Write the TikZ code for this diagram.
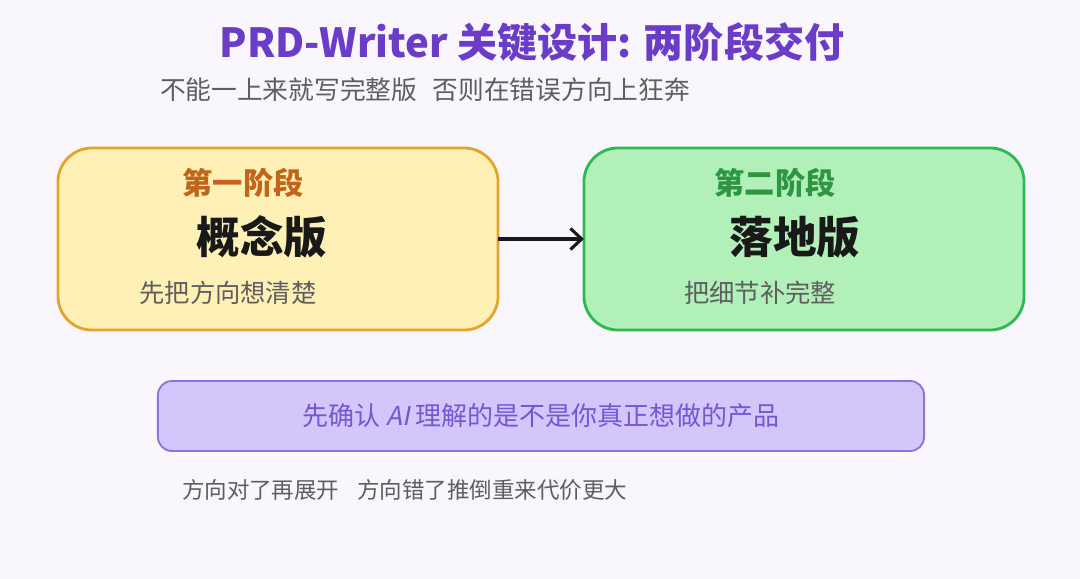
\documentclass[tikz,border=0pt]{standalone}
\usepackage{fontspec}
\setmainfont{Noto Sans CJK SC}
\newfontfamily\slantfont[FakeSlant=0.2]{Noto Sans CJK SC}
\usetikzlibrary{positioning,arrows.meta}
\definecolor{bgpaper}{HTML}{F9F6FD}
\definecolor{titlepurple}{HTML}{6A3CC8}
\definecolor{greytext}{HTML}{5E5E5E}
\definecolor{stageone}{HTML}{FFF1B6}
\definecolor{stageoneline}{HTML}{E3A42E}
\definecolor{stageonehead}{HTML}{C2641A}
\definecolor{stagetwo}{HTML}{B1F0B8}
\definecolor{stagetwoline}{HTML}{2DBA50}
\definecolor{stagetwohead}{HTML}{2E9643}
\definecolor{notebar}{HTML}{D2C6FA}
\definecolor{notebarline}{HTML}{8D74DA}
\definecolor{notetext}{HTML}{7656D4}

\begin{document}
\begin{tikzpicture}[x=0.025cm, y=-0.025cm,
  every node/.style={inner sep=0pt, outer sep=0pt},
  stagebox/.style={rounded corners=0.85cm, line width=2pt,
    minimum width=11cm, minimum height=4.55cm},
  headtext/.style={font=\fontsize{21.5}{26}\selectfont\bfseries},
  bigtext/.style={font=\fontsize{31}{37}\selectfont\bfseries, text=black!90},
  smalltext/.style={font=\fontsize{18}{22}\selectfont, text=greytext}]
  \fill[bgpaper] (0,0) rectangle (1080,579);
  \useasboundingbox (0,0) rectangle (1080,579);
  % heading
  \node (title) at (532,42) [text=titlepurple, font=\fontsize{28.5}{34}\selectfont\bfseries]
    {PRD-Writer 关键设计: 两阶段交付};
  \node (sub) [anchor=west, smalltext, font=\fontsize{18.3}{22}\selectfont] at (160,90)
    {不能一上来就写完整版\hspace{0.6em}否则在错误方向上狂奔};
  % the two stages
  \node (one) [stagebox, draw=stageoneline, fill=stageone] at (278,239) {};
  \node (two) [stagebox, draw=stagetwoline, fill=stagetwo] at (804,239) {};
  \node (onehead) [headtext, text=stageonehead] at (243,183) {第一阶段};
  \node (onename) [bigtext] at (262,237) {概念版};
  \node (onenote) [smalltext] at (228,293) {先把方向想清楚};
  \node (twohead) [headtext, text=stagetwohead] at (775,183) {第二阶段};
  \node (twoname) [bigtext] at (795,237) {落地版};
  \node (twonote) [smalltext] at (760,293) {把细节补完整};
  \draw[line width=2.2pt, black!90, -{Straight Barb[length=8pt, width=15pt, line width=2.2pt]}]
    (one.east) -- (two.west);
  % note bar
  \node (bar) [rounded corners=0.35cm, line width=1.3pt, draw=notebarline,
    fill=notebar, minimum width=19.15cm, minimum height=1.75cm] at (541,416) {};
  \node (bartext) [text=notetext, font=\fontsize{18.5}{22}\selectfont] at (bar)
    {先确认 {\slantfont AI} 理解的是不是你真正想做的产品};
  \node (foot) [anchor=west, smalltext, font=\fontsize{16}{20}\selectfont] at (182,490)
    {方向对了再展开\hspace{0.8em}方向错了推倒重来代价更大};
\end{tikzpicture}
\end{document}
